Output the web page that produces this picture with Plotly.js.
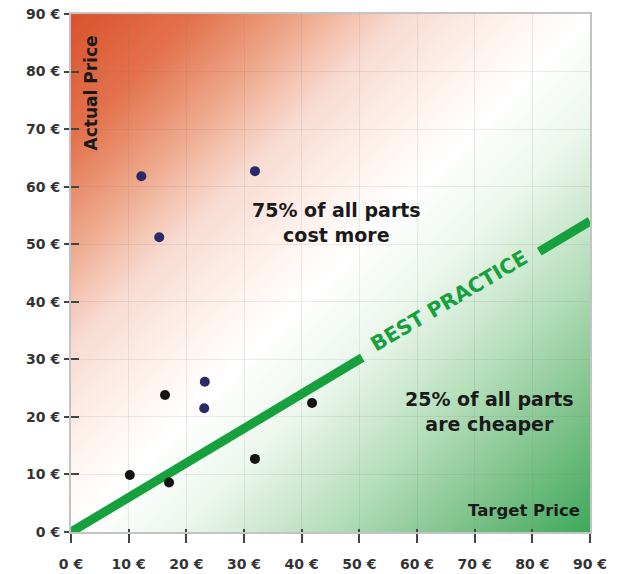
<!DOCTYPE html>
<html>
<head>
<meta charset="utf-8">
<script src="https://cdn.plot.ly/plotly-3.0.1.min.js"></script>
<style>
  html, body { margin: 0; padding: 0; background: #ffffff; }
  #chart { width: 629px; height: 574px; }
</style>
</head>
<body>
<div id="chart"></div>
<script>
// Parts above the best-practice line (cost more than target)
const aboveTarget = [12.2, 31.9, 15.3, 23.2, 23.1];
const aboveActual = [61.8, 62.7, 51.2, 26.1, 21.5];

// Parts near / below the best-practice line
const nearTarget = [16.3, 41.8, 31.9, 10.2, 17.0];
const nearActual = [23.8, 22.4, 12.7, 9.9, 8.6];

// Best-practice line, split around its label
const bestLowX = [0, 50.5];
const bestLowY = [0, 30.3];
const bestHighX = [81.2, 90];
const bestHighY = [48.7, 54];

// Axis ticks
const tickVals = [0, 10, 20, 30, 40, 50, 60, 70, 80, 90];
const tickText = ['0 €', '10 €', '20 €', '30 €', '40 €', '50 €', '60 €', '70 €', '80 €', '90 €'];

const FONT = 'DejaVu Sans, Verdana, sans-serif';
const GREEN = '#17a03e';

// Diagonal red -> white -> green backdrop for the plot area
const gradientSvg =
  '<svg xmlns="http://www.w3.org/2000/svg" width="100" height="100" viewBox="0 0 100 100" preserveAspectRatio="none">' +
  '<defs><linearGradient id="g" x1="0" y1="0" x2="1" y2="1">' +
  '<stop offset="0" stop-color="#d9532d"/>' +
  '<stop offset="0.12" stop-color="#e2714b"/>' +
  '<stop offset="0.22" stop-color="#eda487"/>' +
  '<stop offset="0.32" stop-color="#f8dbd0"/>' +
  '<stop offset="0.44" stop-color="#fff5f1"/>' +
  '<stop offset="0.5" stop-color="#ffffff"/>' +
  '<stop offset="0.6" stop-color="#edf7ee"/>' +
  '<stop offset="0.75" stop-color="#b3ddb8"/>' +
  '<stop offset="0.88" stop-color="#79c087"/>' +
  '<stop offset="1" stop-color="#3ea859"/>' +
  '</linearGradient></defs>' +
  '<rect x="0" y="0" width="100" height="100" fill="url(#g)"/></svg>';
const gradientSrc = 'data:image/svg+xml;charset=utf-8,' + encodeURIComponent(gradientSvg);

const traces = [
  {
    x: bestLowX, y: bestLowY, mode: 'lines', type: 'scatter',
    line: { color: GREEN, width: 9 }, hoverinfo: 'skip'
  },
  {
    x: bestHighX, y: bestHighY, mode: 'lines', type: 'scatter',
    line: { color: GREEN, width: 9 }, hoverinfo: 'skip'
  },
  {
    x: aboveTarget, y: aboveActual, mode: 'markers', type: 'scatter',
    marker: { color: '#2b2a68', size: 10 }
  },
  {
    x: nearTarget, y: nearActual, mode: 'markers', type: 'scatter',
    marker: { color: '#141414', size: 10 }
  },
  // empty trace so the overlay axes (inner tick halves) get drawn
  { x: [], y: [], xaxis: 'x2', yaxis: 'y2', type: 'scatter', mode: 'markers', hoverinfo: 'skip' }
];

const tickFont = { family: FONT, size: 14, color: '#333333', weight: 'bold' };
const textFont = { family: FONT, size: 19, color: '#1a1a1a', weight: 'bold' };

const layout = {
  width: 629,
  height: 574,
  margin: { l: 71, r: 39, t: 14, b: 42 },
  paper_bgcolor: '#ffffff',
  plot_bgcolor: '#ffffff',
  showlegend: false,
  xaxis: {
    range: [0, 90], tickvals: tickVals, ticktext: tickText,
    ticks: 'outside', ticklen: 9, tickwidth: 2, tickcolor: '#444444',
    ticklabelstandoff: 9,
    showgrid: true, gridcolor: 'rgba(120,120,120,0.14)', gridwidth: 1,
    showline: true, linecolor: '#c3c3c3', linewidth: 2, mirror: true,
    zeroline: false, tickfont: tickFont, fixedrange: true
  },
  yaxis: {
    range: [0, 90], tickvals: tickVals, ticktext: tickText,
    ticks: 'outside', ticklen: 5, tickwidth: 2, tickcolor: '#444444',
    ticklabelstandoff: 1,
    showgrid: true, gridcolor: 'rgba(120,120,120,0.14)', gridwidth: 1,
    showline: true, linecolor: '#c3c3c3', linewidth: 2, mirror: true,
    zeroline: false, tickfont: tickFont, fixedrange: true
  },
  xaxis2: {
    overlaying: 'x', anchor: 'y2', range: [0, 90], tickvals: tickVals,
    ticks: 'inside', ticklen: 3, tickwidth: 2, tickcolor: '#444444',
    showticklabels: false, showgrid: false, showline: false, zeroline: false, fixedrange: true
  },
  yaxis2: {
    overlaying: 'y', anchor: 'x2', range: [0, 90], tickvals: tickVals,
    ticks: 'inside', ticklen: 8, tickwidth: 2, tickcolor: '#444444',
    showticklabels: false, showgrid: false, showline: false, zeroline: false, fixedrange: true
  },
  images: [{
    source: gradientSrc, xref: 'x', yref: 'y', x: 0, y: 90,
    sizex: 90, sizey: 90, sizing: 'stretch', xanchor: 'left', yanchor: 'top',
    layer: 'below'
  }],
  annotations: [
    {
      x: 46.1, y: 53.7, xref: 'x', yref: 'y', showarrow: false,
      text: '75% of all parts<br>cost more', align: 'center', font: textFont
    },
    {
      x: 72.6, y: 20.9, xref: 'x', yref: 'y', showarrow: false,
      text: '25% of all parts<br>are cheaper', align: 'center', font: textFont
    },
    {
      x: 65.5, y: 40.2, xref: 'x', yref: 'y', showarrow: false,
      text: 'BEST PRACTICE', textangle: -30.5,
      font: { family: FONT, size: 20.5, color: GREEN, weight: 'bold' }
    },
    {
      x: 88.6, y: 3.8, xref: 'x', yref: 'y', showarrow: false, xanchor: 'right',
      text: 'Target Price',
      font: { family: FONT, size: 16.5, color: '#1a1a1a', weight: 'bold' }
    },
    {
      x: 3.4, y: 76.3, xref: 'x', yref: 'y', showarrow: false, textangle: -90,
      text: 'Actual Price',
      font: { family: FONT, size: 17, color: '#1a1a1a', weight: 'bold' }
    }
  ]
};

Plotly.newPlot('chart', traces, layout, { displayModeBar: false, staticPlot: true });
</script>
</body>
</html>
